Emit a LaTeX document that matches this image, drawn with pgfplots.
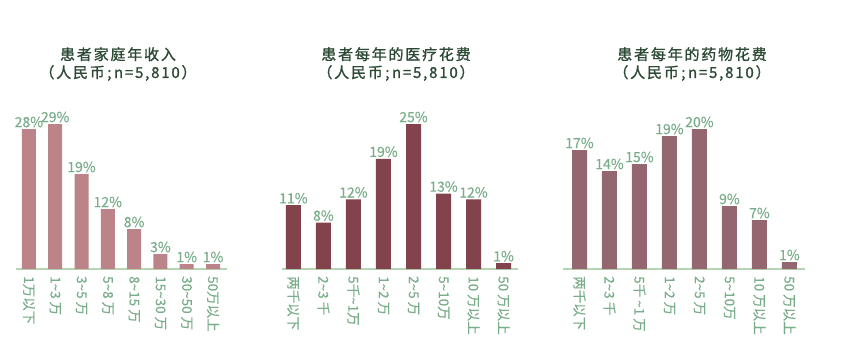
\documentclass[border=0pt]{standalone}
\usepackage{fontspec}
\setmainfont{Noto Sans CJK SC}
\newfontfamily\titlefont[LetterSpace=12,FakeBold=1.2]{Noto Sans CJK SC}
\newfontfamily\lblfont[FakeBold=0.4]{Noto Sans CJK SC}
\usepackage{pgfplots}
\pgfplotsset{compat=1.18}
\definecolor{barA}{HTML}{BC8489}
\definecolor{barB}{HTML}{83434D}
\definecolor{barC}{HTML}{946670}
\definecolor{lblgreen}{HTML}{7AAE8A}
\definecolor{axgreen}{HTML}{B5D6B5}
\definecolor{titlegreen}{HTML}{2D4A35}
\newcommand{\tl}{\textasciitilde}
\newcommand{\semi}{\hspace{2.5pt};\hspace{2.5pt}}
\pgfplotsset{mybars/.style={
  scale only axis, ybar, ymin=0, clip=false,
  axis x line=bottom, axis y line=none,
  x axis line style={-, draw=axgreen, line width=1.5pt},
  xtick=data, major tick length=0pt,
  xticklabel style={rotate=-90, anchor=west, font=\lblfont\fontsize{13.5}{15}\selectfont, text=lblgreen, inner xsep=7pt, inner ysep=0pt},
  nodes near coords={\pgfmathprintnumber{\pgfplotspointmeta}\%},
  nodes near coords style={font=\lblfont\fontsize{14}{15}\selectfont, text=lblgreen, inner sep=1.5pt},
  /pgf/number format/assume math mode=true,
  anchor=south west,
}}
\begin{document}
\begin{tikzpicture}
\useasboundingbox (0,0) rectangle (842pt,362pt);
\begin{axis}[mybars, at={(16pt,93pt)}, width=211pt, height=150pt,
  xmin=-0.49, xmax=7.53, ymax=30,
  xticklabels={1万以下, 1\tl 3 万, 3\tl 5 万, 5\tl 8 万, 8\tl 15 万, 15\tl 30 万, 30\tl 50 万, 50万以上}]
\addplot[fill=barA, draw=none, bar width=14pt] coordinates {(0,28) (1,29) (2,19) (3,12) (4,8) (5,3) (6,1) (7,1)};
\end{axis}
\begin{axis}[mybars, at={(282pt,93pt)}, width=236pt, height=145pt,
  xmin=-0.38, xmax=7.48, ymax=25,
  xticklabels={两千以下, 2\tl 3 千, 5千\tl 1万, 1\tl 2 万, 2\tl 5 万, 5\tl 10万, 10 万以上, 50 万以上}]
\addplot[fill=barB, draw=none, bar width=15pt] coordinates {(0,11) (1,8) (2,12) (3,19) (4,25) (5,13) (6,12) (7,1)};
\end{axis}
\begin{axis}[mybars, at={(563pt,93pt)}, width=242pt, height=140pt,
  xmin=-0.55, xmax=7.52, ymax=20,
  xticklabels={两千以下, 2\tl 3 千, 5千 \tl 1 万, 1\tl 2 万, 2\tl 5 万, 5\tl 10万, 10 万以上, 50 万以上}]
\addplot[fill=barC, draw=none, bar width=15pt] coordinates {(0,17) (1,14) (2,15) (3,19) (4,20) (5,9) (6,7) (7,1)};
\end{axis}
\node[font=\titlefont\fontsize{15}{18}\selectfont, text=titlegreen, align=center] at (118pt,298pt) {患者家庭年收入\\（人民币\semi n=5,810）};
\node[font=\titlefont\fontsize{15}{18}\selectfont, text=titlegreen, align=center] at (396pt,298pt) {患者每年的医疗花费\\（人民币\semi n=5,810）};
\node[font=\titlefont\fontsize{15}{18}\selectfont, text=titlegreen, align=center] at (692pt,298pt) {患者每年的药物花费\\（人民币\semi n=5,810）};
\end{tikzpicture}
\end{document}
